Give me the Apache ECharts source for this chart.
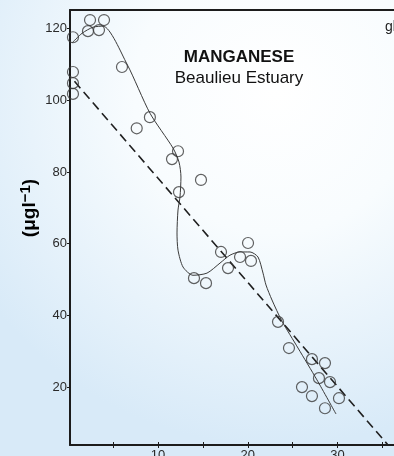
<!DOCTYPE html>
<html>
<head>
<meta charset="utf-8">
<script src="https://cdn.jsdelivr.net/npm/echarts@6/dist/echarts.min.js"></script>
<style>
  html, body { margin: 0; padding: 0; }
  #chart { width: 394px; height: 456px; }
</style>
</head>
<body>
<div id="chart"></div>
<script>
// Sample stations: distance along estuary (km) and dissolved Mn (µg/l)
var sampleDist = [2.43, 3.99, 2.2, 3.43, 0.53, 0.53, 0.53, 0.53, 5.99, 7.63, 9.1,
  12.23, 11.56, 12.34, 14.79, 14.01, 15.35, 17.02, 17.8, 19.14, 20.03, 20.36,
  23.37, 24.59, 27.15, 28.6, 27.93, 29.16, 26.04, 27.15, 30.16, 28.6];
var sampleMn = [122.4, 122.4, 119.3, 119.6, 117.6, 107.9, 104.8, 101.8, 109.3, 92.2, 95.3,
  85.8, 83.6, 74.4, 77.8, 50.4, 49.0, 57.7, 53.2, 56.3, 60.2, 55.2,
  38.2, 30.9, 27.8, 26.7, 22.5, 21.4, 20.0, 17.5, 16.9, 14.1];

// Hand-fitted trend through the samples
var trendDist = [0.42, 1.54, 2.76, 3.88, 6.55, 9.11, 11.67, 12.34, 12.56, 12.45, 12.23,
  12.12, 12.23, 12.79, 13.9, 15.46, 16.91, 18.02, 19.14, 20.25, 21.14, 21.7, 22.03,
  22.7, 23.81, 25.6, 27.71, 29.83];
var trendMn = [116.0, 118.7, 120.4, 120.7, 110.1, 96.4, 86.7, 82.8, 78.6, 73.0, 69.4,
  63.0, 58.2, 53.5, 51.2, 51.8, 54.6, 56.8, 57.7, 57.7, 56.3, 51.8, 48.5,
  44.3, 38.4, 30.9, 22.0, 12.5];

// Theoretical dilution line
var dilutionDist = [0.7, 35.6];
var dilutionMn = [105.3, 3.9];

// Tick values
var yTicks = [20, 40, 60, 80, 100, 120];
var xTicks = [5, 10, 15, 20, 25, 30, 35];
var xLabels = [10, 20, 30];

function pairs(xs, ys) {
  return xs.map(function (x, i) { return [x, ys[i]]; });
}

var ink = '#1c1c1c';
var font = '"Liberation Sans", Arial, sans-serif';

var chart = echarts.init(document.getElementById('chart'), null, { renderer: 'canvas' });

var xRange = { min: 0.2, max: 36.29 };

chart.setOption({
  animation: false,
  backgroundColor: {
    type: 'radial', x: 0.7, y: 0.2, r: 0.9,
    colorStops: [
      { offset: 0, color: '#ffffff' },
      { offset: 0.4, color: '#f8fcfe' },
      { offset: 1, color: '#d8eaf8' }
    ]
  },
  grid: { left: 70, right: 0, top: 10, bottom: 11, containLabel: false, outerBoundsMode: 'none' },
  xAxis: [
    {
      type: 'value', min: xRange.min, max: xRange.max, position: 'bottom',
      splitLine: { show: false },
      axisLine: { lineStyle: { color: ink, width: 2 } },
      axisTick: { length: 3, customValues: xTicks, lineStyle: { color: ink, width: 1 } },
      axisLabel: { customValues: xLabels, margin: 4, color: '#2a2a2a', fontSize: 13, fontFamily: font }
    },
    {
      // inner half of the crossing ticks
      type: 'value', min: xRange.min, max: xRange.max, position: 'bottom',
      splitLine: { show: false },
      axisLine: { show: false },
      axisTick: { inside: true, length: 3, customValues: xTicks, lineStyle: { color: ink, width: 1 } },
      axisLabel: { show: false }
    },
    {
      // frame along the top
      type: 'value', min: xRange.min, max: xRange.max, position: 'top',
      splitLine: { show: false },
      axisLine: { lineStyle: { color: ink, width: 2 } },
      axisTick: { show: false },
      axisLabel: { show: false }
    }
  ],
  yAxis: {
    type: 'value', min: 3.85, max: 125.2,
    splitLine: { show: false },
    axisLine: { lineStyle: { color: ink, width: 2 } },
    axisTick: { length: 3, customValues: yTicks, lineStyle: { color: ink, width: 1 } },
    axisLabel: { customValues: yTicks, margin: 3, color: '#2a2a2a', fontSize: 13, fontFamily: font }
  },
  series: [
    {
      type: 'line', xAxisIndex: 0, data: pairs(dilutionDist, dilutionMn),
      symbol: 'none', lineStyle: { color: '#202020', width: 1.6, type: [9, 5] }, z: 2
    },
    {
      type: 'line', xAxisIndex: 0, data: pairs(trendDist, trendMn),
      symbol: 'none', smooth: 0.25, lineStyle: { color: '#3a3a3a', width: 1 }, z: 3
    },
    {
      type: 'scatter', xAxisIndex: 0, data: pairs(sampleDist, sampleMn),
      symbol: 'circle', symbolSize: 11,
      itemStyle: { color: 'rgba(0,0,0,0)', borderColor: '#3a3a3a', borderWidth: 1.2 }, z: 4
    }
  ],
  graphic: [
    {
      type: 'text', z: 10,
      style: { text: 'MANGANESE', x: 239, y: 57, textAlign: 'center', textVerticalAlign: 'middle',
        font: 'bold 17px ' + font, fill: '#111' }
    },
    {
      type: 'text', z: 10,
      style: { text: 'Beaulieu Estuary', x: 239, y: 78, textAlign: 'center', textVerticalAlign: 'middle',
        font: '17px ' + font, fill: '#111' }
    },
    {
      type: 'text', z: 10,
      style: { text: 'gl', x: 385, y: 27, textAlign: 'left', textVerticalAlign: 'middle',
        font: '14px ' + font, fill: '#222' }
    },
    {
      type: 'text', z: 10, x: 30, y: 208, rotation: Math.PI / 2,
      style: {
        text: '{a|(μgl}{b|−1}{a|)}', x: 0, y: 0, textAlign: 'center', textVerticalAlign: 'middle',
        rich: {
          a: { fontSize: 19, fontWeight: 'bold', fontFamily: font, color: '#111' },
          b: { fontSize: 15, fontWeight: 'bold', fontFamily: font, color: '#111', padding: [0, 0, 9, 0] }
        }
      }
    }
  ]
});
</script>
</body>
</html>
